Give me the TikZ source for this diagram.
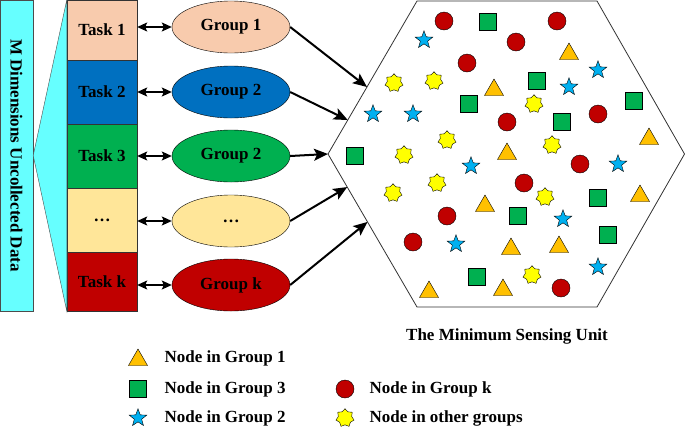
\documentclass[tikz,border=0pt]{standalone}
\usepackage{fontspec}
\setmainfont{Liberation Serif}
\usetikzlibrary{shapes.geometric,arrows.meta,calc}
\definecolor{barcyan}{RGB}{102,255,255}
\definecolor{peach}{RGB}{248,203,173}
\definecolor{taskblue}{RGB}{0,112,192}
\definecolor{taskgreen}{RGB}{0,176,80}
\definecolor{lightgold}{RGB}{255,230,153}
\definecolor{darkred}{RGB}{192,0,0}
\definecolor{triorange}{RGB}{255,192,0}
\definecolor{starblue}{RGB}{0,176,240}
\definecolor{sunyellow}{RGB}{255,255,0}

\begin{document}
\begin{tikzpicture}[x=1pt,y=-1pt,
    font=\bfseries\fontsize{17}{20}\selectfont,
    taskbox/.style={draw=black!80, minimum width=70, inner sep=0pt},
    grp/.style={draw, ellipse, minimum width=118, minimum height=52, inner sep=0pt},
    link/.style={{Stealth[length=10pt,width=9pt,inset=2pt]}-{Stealth[length=10pt,width=9pt,inset=2pt]}, line width=1.4pt},
    feed/.style={-{Stealth[length=14pt,width=12pt,inset=3pt]}, line width=2pt},
    gonenode/.style={draw, regular polygon, regular polygon sides=3, fill=triorange, minimum size=22, inner sep=0pt},
    gthreenode/.style={draw, rectangle, fill=taskgreen, minimum size=17, inner sep=0pt},
    gknode/.style={draw, circle, fill=darkred, minimum size=18, inner sep=0pt},
    gtwonode/.style={draw, star, star points=5, star point ratio=2.4, fill=starblue, minimum size=18.5, inner sep=0pt},
    othernode/.style={draw, star, star points=7, star point ratio=1.35, fill=sunyellow, minimum size=18.5, inner sep=0pt}]
    \useasboundingbox (0,0) rectangle (685,429);

    % data bar and tasks
    \node[draw=black!70, fill=barcyan, rotate=-90, minimum width=311, minimum height=33, inner sep=0pt] (bar) at (16.5,155.5) {M Dimensions Uncollected Data};
    \node[taskbox, fill=peach, minimum height=60] (t1) at (102,30) {Task 1};
    \node[taskbox, fill=taskblue, minimum height=64] (t2) at (102,92) {Task 2};
    \node[taskbox, fill=taskgreen, minimum height=64] (t3) at (102,156) {Task 3};
    \node[taskbox, fill=lightgold, minimum height=64] (t4) at (102,220) {\dots};
    \node[taskbox, fill=darkred, minimum height=59] (tk) at (102,281.5) {Task k};
    \filldraw[fill=barcyan, draw=black!70] (bar.north) -- (t1.north west) -- (tk.south west) -- cycle;

    % groups
    \node[grp, fill=peach] (g1) at (231,27) {Group 1};
    \node[grp, fill=taskblue] (g2) at (231,92) {Group 2};
    \node[grp, fill=taskgreen] (g3) at (231,156) {Group 2};
    \node[grp, fill=lightgold] (g4) at (231,221) {\dots};
    \node[grp, fill=darkred] (gk) at (231,285) {Group k};
    \draw[link] (t1.east |- g1.west) -- (g1.west);
    \draw[link] (t2.east |- g2.west) -- (g2.west);
    \draw[link] (t3.east |- g3.west) -- (g3.west);
    \draw[link] (t4.east |- g4.west) -- (g4.west);
    \draw[link] (tk.east |- gk.west) -- (gk.west);

    % sensing unit
    \coordinate (hw) at (328,154);
    \coordinate (hnw) at (417,1);
    \coordinate (hne) at (597,1);
    \coordinate (he) at (684.5,154);
    \coordinate (hse) at (597,307);
    \coordinate (hsw) at (417,307);
    \draw[line width=0.8pt, black!80] (hw) -- (hnw) -- (hne) -- (he) -- (hse) -- (hsw) -- cycle;
    \draw[feed] (g1.east) -- ($(hw)!0.438!(hnw)$);
    \draw[feed] (g2.east) -- ($(hw)!0.222!(hnw)$);
    \draw[feed] (g3.east) -- (hw);
    \draw[feed] (g4.east) -- ($(hw)!0.216!(hsw)$);
    \draw[feed] (gk.east) -- ($(hw)!0.444!(hsw)$);
    \node (unit) at (507,336) {The Minimum Sensing Unit};

    \foreach \x/\y [count=\i] in {444/21, 557/21, 516/42, 467/63, 507/122, 598/114, 580/164, 524/183, 447/216, 413/242, 561/288}
        \node[gknode] (k\i) at (\x,\y) {};
    \foreach \x/\y [count=\i] in {488/22, 537/81, 469/104, 634/101, 562/122, 355/156, 598/198, 518/216, 608/235, 477/277}
        \node[gthreenode] (s\i) at (\x,\y) {};
    \foreach \x/\y [count=\i] in {569/54, 494/90, 649/139, 507/154, 640/196, 485/206, 511/249, 559/247, 429/292, 503/290}
        \node[gonenode] (a\i) at (\x,\y) {};
    \foreach \x/\y [count=\i] in {424/40, 598/70, 569/87, 373/114, 413/114, 471/166, 618/164, 563/219, 456/244, 598/267}
        \node[gtwonode] (b\i) at (\x,\y) {};
    \foreach \x/\y [count=\i] in {394/83, 434/81, 534/104, 447/140, 404/155, 552/145, 437/183, 393/193, 545/197, 532/275}
        \node[othernode] (o\i) at (\x,\y) {};

    % legend
    \node[gonenode] (l1) at (138,360) {};
    \node[anchor=west] (l1t) at (161,358) {Node in Group 1};
    \node[gthreenode] (l3) at (138,389) {};
    \node[anchor=west] (l3t) at (161,389) {Node in Group 3};
    \node[gtwonode] (l2) at (138,418) {};
    \node[anchor=west] (l2t) at (161,418) {Node in Group 2};
    \node[gknode] (lk) at (345,389) {};
    \node[anchor=west] (lkt) at (366,389) {Node in Group k};
    \node[othernode] (lo) at (345,418) {};
    \node[anchor=west] (lot) at (366,418) {Node in other groups};
\end{tikzpicture}
\end{document}
